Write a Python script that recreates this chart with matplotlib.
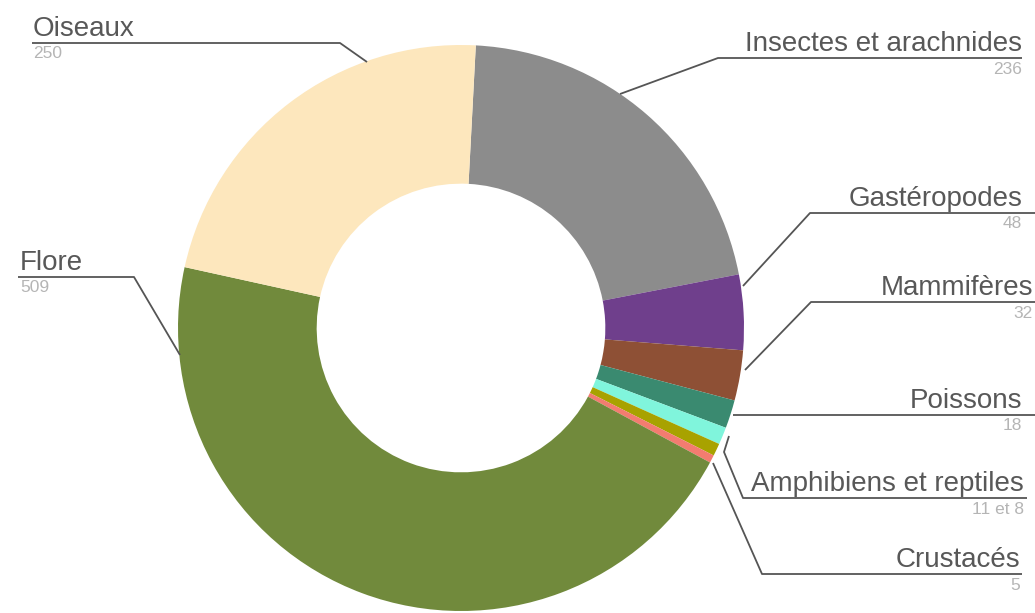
import matplotlib
matplotlib.use("Agg")
import matplotlib.pyplot as plt

# donnees (sens horaire depuis le haut)
groupes = ["Insectes et arachnides", "Gastéropodes", "Mammifères", "Poissons",
           "Amphibiens", "Reptiles", "Crustacés", "Flore", "Oiseaux"]
effectifs = [236, 48, 32, 18, 11, 8, 5, 509, 250]
couleurs = ["#8c8c8c", "#6f3f8c", "#8e5035", "#3a8a70",
            "#80f5dc", "#a8a200", "#f37c70", "#718a3c", "#fde7bd"]

# etiquettes affichees (texte, valeur)
etiquettes = ["Insectes et arachnides", "Gastéropodes", "Mammifères", "Poissons",
              "Amphibiens et reptiles", "Crustacés", "Flore", "Oiseaux"]
valeurs_txt = ["236", "48", "32", "18", "11 et 8", "5", "509", "250"]

plt.rcParams['font.family'] = ['Liberation Sans', 'DejaVu Sans']

fig = plt.figure(figsize=(10.35, 6.13), dpi=100)
ax = fig.add_axes([0, 0, 1, 1])

# axe en pixels, y vers le bas -> counterclock=True donne le sens horaire a l'ecran
cx, cy, r = 461, 328, 283
ax.pie(effectifs, colors=couleurs, startangle=-87, counterclock=True,
       center=(cx, cy), radius=r,
       wedgeprops=dict(width=r * 0.49, linewidth=0))

ax.set_xlim(0, 1035)
ax.set_ylim(613, 0)
ax.set_aspect('auto')
ax.axis('off')

# lignes de rappel : (points de la ligne), ancrage texte, alignement
traits = [
    [(620, 94), (718, 58), (1022, 58)],
    [(743, 286), (810, 213), (1035, 213)],
    [(745, 370), (811, 302), (1035, 302)],
    [(733, 415), (1035, 415)],
    [(729, 436), (724, 452), (743, 498), (1027, 498)],
    [(713, 463), (762, 574), (1022, 574)],
    [(180, 355), (134, 277), (18, 277)],
    [(367, 62), (340, 43), (32, 43)],
]
ancres = [(1022, 'right'), (1022, 'right'), (1033, 'right'), (1022, 'right'),
          (1024, 'right'), (1020, 'right'), (20, 'left'), (33, 'left')]

for pts, (x, ha), lab, val in zip(traits, ancres, etiquettes, valeurs_txt):
    xs = [p[0] for p in pts]
    ys = [p[1] for p in pts]
    ax.plot(xs, ys, color="#555555", linewidth=1.3, solid_capstyle='butt')
    y_line = pts[-1][1]
    ax.text(x, y_line - 7, lab, ha=ha, va='baseline', fontsize=20, color="#585858")
    ax.text(x, y_line + 11, val, ha=ha, va='center', fontsize=12.5, color="#b5b5b5")

fig.savefig("out.png", dpi=100, facecolor="white")
